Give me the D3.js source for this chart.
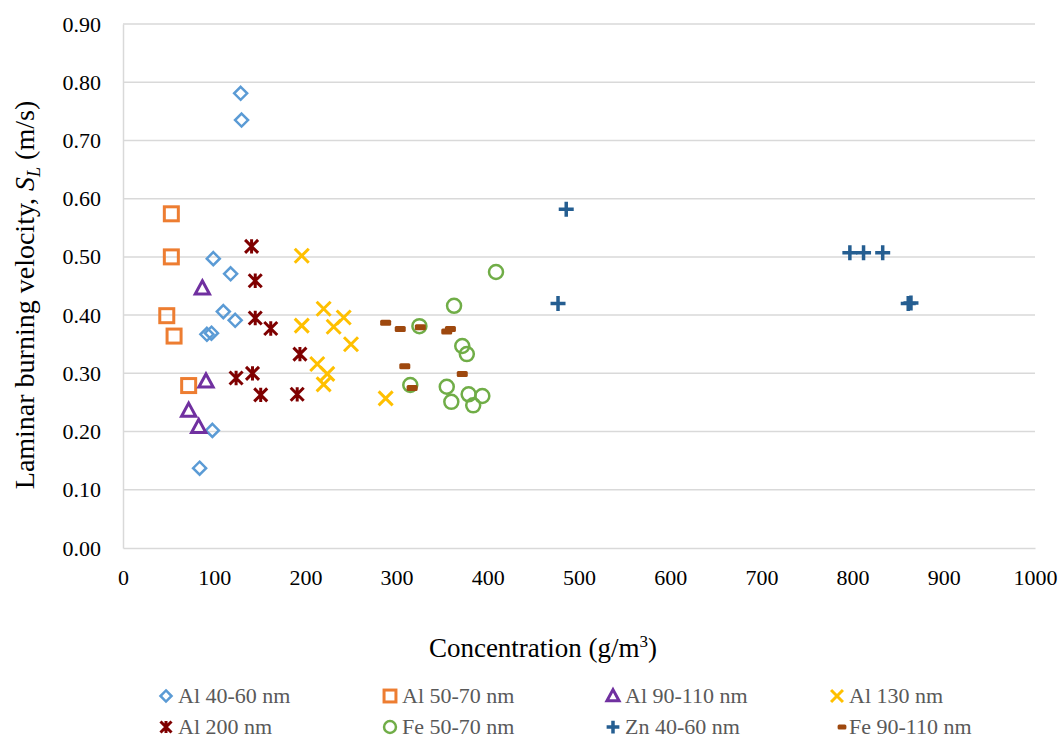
<!DOCTYPE html>
<html>
<head>
<meta charset="utf-8">
<script src="https://cdn.jsdelivr.net/npm/d3@7"></script>
<style>
  body { margin: 0; background: #fff; }
  text { font-family: "Liberation Serif", "Times New Roman", serif; }
</style>
</head>
<body>
<svg id="chart" width="1059" height="738"></svg>
<script>
var width = 1059;
var height = 738;

// concentration (g/m3), burning velocity (m/s)
var al4060 = [[129, 0.781], [130, 0.735], [99, 0.497], [118, 0.471], [110, 0.406], [123, 0.391], [92, 0.367], [97, 0.369], [98, 0.202], [84, 0.137]];
var al5070 = [[53, 0.574], [53, 0.500], [48, 0.399], [56, 0.364], [72, 0.279]];
var al90110 = [[87, 0.446], [91, 0.286], [72, 0.236], [83, 0.208]];
var al130 = [[196, 0.502], [220, 0.411], [242, 0.396], [231, 0.380], [196, 0.382], [250, 0.350], [213, 0.316], [224, 0.299], [220, 0.281], [288, 0.257]];
var al200 = [[141, 0.518], [145, 0.459], [145, 0.395], [162, 0.377], [194, 0.333], [124, 0.292], [142, 0.300], [151, 0.263], [191, 0.264]];
var fe5070 = [[409, 0.474], [363, 0.416], [325, 0.381], [372, 0.347], [377, 0.333], [315, 0.280], [355, 0.277], [360, 0.251], [379, 0.264], [394, 0.261], [384, 0.245]];
var zn4060 = [[486, 0.582], [477, 0.420], [797, 0.507], [812, 0.507], [833, 0.507], [861, 0.420], [864, 0.421]];
var fe90110 = [[288, 0.387], [304, 0.376], [326, 0.379], [355, 0.372], [359, 0.376], [309, 0.312], [317, 0.275], [372, 0.299]];

var xTicks = [0, 100, 200, 300, 400, 500, 600, 700, 800, 900, 1000];
var yTicks = [0, 0.1, 0.2, 0.3, 0.4, 0.5, 0.6, 0.7, 0.8, 0.9];

var seriesList = [
  { name: "Al 40-60 nm", data: al4060, shape: "diamond", color: "#5b9bd5" },
  { name: "Al 50-70 nm", data: al5070, shape: "square", color: "#ed7d31" },
  { name: "Al 90-110 nm", data: al90110, shape: "triangle", color: "#7030a0" },
  { name: "Al 130 nm", data: al130, shape: "x", color: "#ffc000" },
  { name: "Al 200 nm", data: al200, shape: "star", color: "#7f0000" },
  { name: "Fe 50-70 nm", data: fe5070, shape: "circle", color: "#70ad47" },
  { name: "Zn 40-60 nm", data: zn4060, shape: "plus", color: "#255e91" },
  { name: "Fe 90-110 nm", data: fe90110, shape: "dash", color: "#9e480e" }
];

var margin = { left: 123, right: 1059 - 1035, top: 24, bottom: 738 - 548 };

var x = d3.scaleLinear().domain([0, 1000]).range([margin.left, width - margin.right]);
var y = d3.scaleLinear().domain([0, 0.9]).range([height - margin.bottom, margin.top]);

var svg = d3.select("#chart").style("font-family", "'Liberation Serif', serif");

// gridlines
svg.append("g")
  .selectAll("line")
  .data(yTicks.slice(1))
  .join("line")
  .attr("x1", x(0)).attr("x2", x(1000))
  .attr("y1", d => y(d)).attr("y2", d => y(d))
  .attr("stroke", "#d9d9d9")
  .attr("stroke-width", 1.5);

// axes
var xAxis = svg.append("g")
  .attr("transform", `translate(0,${y(0)})`)
  .call(d3.axisBottom(x).tickValues(xTicks).tickSize(0).tickPadding(21).tickFormat(d3.format("d")));
var yAxis = svg.append("g")
  .attr("transform", `translate(${x(0)},0)`)
  .call(d3.axisLeft(y).tickValues(yTicks).tickSize(0).tickPadding(22).tickFormat(d3.format(".2f")));

[xAxis, yAxis].forEach(a => {
  a.attr("font-family", null);
  a.select(".domain").attr("stroke", "#d9d9d9").attr("stroke-width", 1.5);
  a.selectAll("text")
    .attr("fill", "#000")
    .style("font-size", "22px")
    .style("font-family", "'Liberation Serif', serif");
});

// marker drawing
function drawMarker(g, shape, color, s) {
  s = s || 1;
  if (shape === "diamond") {
    var r = 6.5 * s;
    g.append("path").attr("d", `M0,${-r}L${r},0L0,${r}L${-r},0Z`)
      .attr("fill", "none").attr("stroke", color).attr("stroke-width", 2.5);
  } else if (shape === "square") {
    var h = 7 * s;
    g.append("rect").attr("x", -h).attr("y", -h).attr("width", 2 * h).attr("height", 2 * h)
      .attr("fill", "none").attr("stroke", color).attr("stroke-width", 3);
  } else if (shape === "triangle") {
    var t = 7.5 * s;
    g.append("path").attr("d", `M0,${-t}L${t * 0.95},${t * 0.75}L${-t * 0.95},${t * 0.75}Z`)
      .attr("fill", "none").attr("stroke", color).attr("stroke-width", 3).attr("stroke-linejoin", "miter");
  } else if (shape === "x") {
    var a = 7 * s;
    g.append("path").attr("d", `M${-a},${-a}L${a},${a}M${a},${-a}L${-a},${a}`)
      .attr("stroke", color).attr("stroke-width", 3);
  } else if (shape === "star") {
    var b = 6.5 * s;
    g.append("path").attr("d", `M${-b},${-b}L${b},${b}M${b},${-b}L${-b},${b}M0,${-b * 1.1}L0,${b * 1.1}`)
      .attr("stroke", color).attr("stroke-width", 3);
  } else if (shape === "circle") {
    g.append("circle").attr("r", 7 * s)
      .attr("fill", "none").attr("stroke", color).attr("stroke-width", 2.5);
  } else if (shape === "plus") {
    var p = 7.5 * s;
    g.append("path").attr("d", `M${-p},0L${p},0M0,${-p}L0,${p}`)
      .attr("stroke", color).attr("stroke-width", 3.5);
  } else if (shape === "dash") {
    g.append("rect").attr("x", -5.5 * s).attr("y", -3 * s).attr("width", 11 * s).attr("height", 6 * s)
      .attr("rx", 1.5).attr("fill", color);
  }
}

// points
seriesList.forEach(function (ser) {
  svg.append("g").attr("class", "series")
    .selectAll("g")
    .data(ser.data)
    .join("g")
    .attr("transform", d => `translate(${x(d[0])},${y(d[1])})`)
    .each(function () { drawMarker(d3.select(this), ser.shape, ser.color); });
});

// axis titles
svg.append("text")
  .attr("x", 543).attr("y", 657)
  .attr("text-anchor", "middle")
  .style("font-size", "27px")
  .attr("fill", "#000")
  .html("Concentration (g/m<tspan dy='-10' font-size='17px'>3</tspan><tspan dy='10'>)</tspan>");

svg.append("text")
  .attr("transform", "translate(34,295) rotate(-90)")
  .attr("text-anchor", "middle")
  .style("font-size", "28px")
  .attr("fill", "#000")
  .html("Laminar burning velocity, <tspan font-style='italic'>S</tspan><tspan font-style='italic' font-size='18px' dy='6'>L</tspan><tspan dy='-6'> (m/s)</tspan>");

// legend
var legendCols = [166, 390, 613, 837];
var legendRows = [696, 727];
var legend = svg.append("g")
  .selectAll("g")
  .data(seriesList)
  .join("g")
  .attr("transform", (d, i) => `translate(${legendCols[i % 4]},${legendRows[Math.floor(i / 4)]})`);

legend.each(function (d) {
  var g = d3.select(this);
  var mx = d.shape === "dash" ? 5 : 0;
  drawMarker(g.append("g").attr("transform", `translate(${mx},0)`), d.shape, d.color, d.shape === "dash" ? 0.8 : 0.85);
  g.append("text")
    .attr("x", 12).attr("y", 7)
    .style("font-size", "22px")
    .attr("fill", "#595959")
    .text(d.name);
});
</script>
</body>
</html>
